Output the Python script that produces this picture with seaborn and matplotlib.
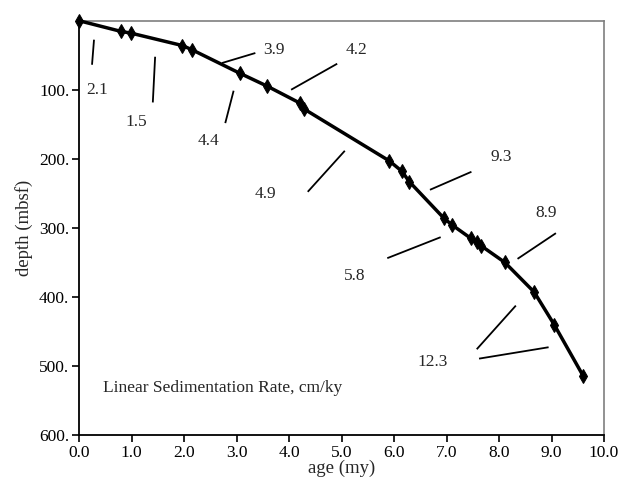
import matplotlib
matplotlib.use("Agg")
import matplotlib.pyplot as plt
import seaborn as sns
import pandas as pd

# ---- data ----
age = [0.0, 0.80, 0.99, 1.97, 2.15, 3.06, 3.59, 4.20, 4.29, 5.91, 6.15, 6.29,
       6.95, 7.11, 7.46, 7.58, 7.66, 8.11, 8.67, 9.05, 9.60]
depth = [0, 15.5, 18, 36, 42, 76, 95, 119, 128, 203, 218, 233,
         286, 296, 315, 320, 326, 350, 393, 440, 514]

rate_labels = ["2.1", "1.5", "3.9", "4.4", "4.2", "4.9", "9.3", "8.9", "5.8", "12.3"]
label_x = [0.35, 1.10, 3.72, 2.46, 5.29, 3.55, 8.05, 8.90, 5.25, 6.73]
label_y = [100, 146, 42, 174, 43, 251, 198, 278, 370, 494]

# leader segments: (x0, y0, x1, y1)
seg_x0 = [0.286, 1.450, 2.723, 2.945, 4.040, 5.063, 6.685, 8.353, 5.872, 7.576, 7.620]
seg_y0 = [27.5, 52.2, 61.3, 101.4, 100.0, 188.4, 244.9, 344.9, 343.9, 475.8, 489.4]
seg_x1 = [0.248, 1.406, 3.359, 2.786, 4.918, 4.357, 7.475, 9.084, 6.889, 8.321, 8.945]
seg_y1 = [63.8, 118.4, 46.8, 148.3, 62.3, 247.8, 218.8, 307.7, 313.5, 412.6, 472.9]

x_ticks = [0, 1, 2, 3, 4, 5, 6, 7, 8, 9, 10]
y_ticks = [100, 200, 300, 400, 500, 600]

df = pd.DataFrame({"age": age, "depth": depth})

sns.set_style("ticks")
plt.rcParams["font.family"] = ["Liberation Serif", "DejaVu Serif"]

fig = plt.figure(figsize=(6.3, 4.86), dpi=100)
ax = fig.add_axes([79/630, 1-435/486, (604-79)/630, (435-20.7)/486])

sns.lineplot(data=df, x="age", y="depth", sort=False, ax=ax, color="black",
             linewidth=2.5, marker="d", markersize=7.5, markeredgecolor="black",
             markerfacecolor="black")
for l in ax.lines:
    l.set_clip_on(False)
    l.set_zorder(5)

for x0, y0, x1, y1 in zip(seg_x0, seg_y0, seg_x1, seg_y1):
    ax.plot([x0, x1], [y0, y1], color="black", linewidth=1.3, solid_capstyle="butt")

for t, x, y in zip(rate_labels, label_x, label_y):
    ax.text(x, y, t, ha="center", va="center", fontsize=12.5)

ax.text(0.46, 532, "Linear Sedimentation Rate, cm/ky", ha="left", va="center", fontsize=12.5)

ax.set_xlim(0, 10)
ax.set_ylim(600, 0)
ax.set_xticks(x_ticks)
ax.set_xticklabels([f"{v:.1f}" for v in x_ticks], fontsize=12.5)
ax.set_yticks(y_ticks)
ax.set_yticklabels([f"{v}." for v in y_ticks], fontsize=12.5)
ax.tick_params(axis="both", direction="out", length=5, width=1.2, pad=2, colors="black")
ax.tick_params(top=False, right=False)

for s in ["left", "bottom"]:
    ax.spines[s].set_color("black")
    ax.spines[s].set_linewidth(1.3)
for s in ["top", "right"]:
    ax.spines[s].set_visible(True)
    ax.spines[s].set_color("#7f7f7f")
    ax.spines[s].set_linewidth(1.2)

ax.set_xlabel("age (my)", fontsize=13.5, labelpad=-1)
ax.set_ylabel("depth (mbsf)", fontsize=13.5, labelpad=4)

fig.savefig("out.png", dpi=100)
